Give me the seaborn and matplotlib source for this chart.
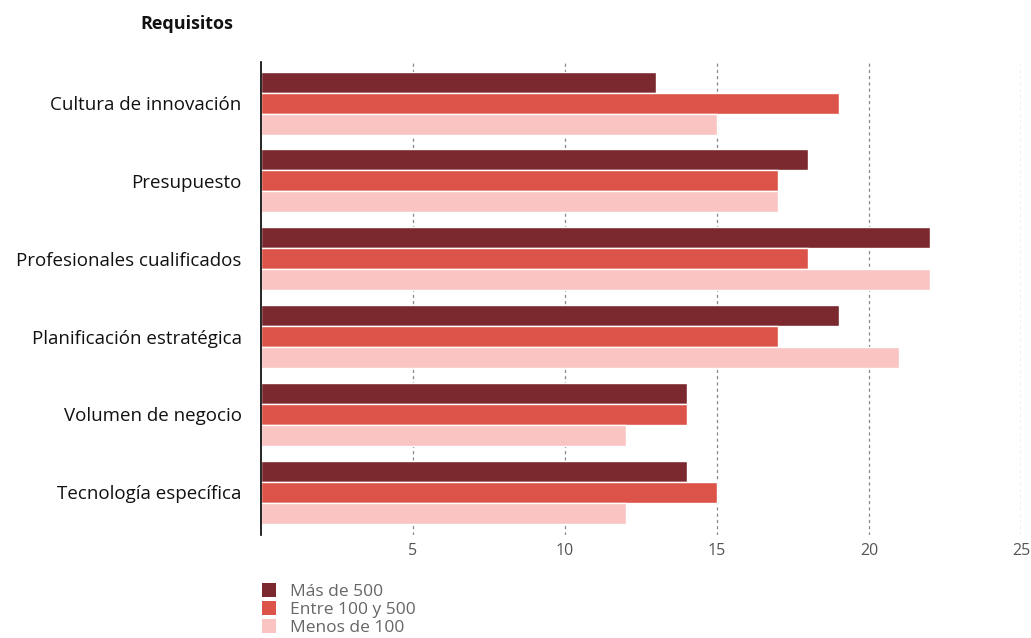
import pandas as pd
import seaborn as sns
import matplotlib.pyplot as plt
from matplotlib.patches import Patch

# Data
categories = ['Cultura de innovación', 'Presupuesto', 'Profesionales cualificados',
              'Planificación estratégica', 'Volumen de negocio', 'Tecnología específica']
series_names = ['Más de 500', 'Entre 100 y 500', 'Menos de 100']
mas_500 = [13, 18, 22, 19, 14, 14]
entre_100_500 = [19, 17, 18, 17, 14, 15]
menos_100 = [15, 17, 22, 21, 12, 12]
x_ticks = [5, 10, 15, 20, 25]

colors = ['#7B292E', '#DC5449', '#F9C4C1']

df = pd.DataFrame({
    'categoria': categories * 3,
    'serie': [s for s in series_names for _ in categories],
    'valor': mas_500 + entre_100_500 + menos_100,
})

sns.set_style('white')
plt.rcParams['font.family'] = ['Open Sans', 'DejaVu Sans']

fig = plt.figure(figsize=(10.31, 6.38), dpi=100)
ax = fig.add_axes([0.2532, 0.1614, 0.737, 0.7416])

sns.barplot(data=df, y='categoria', x='valor', hue='serie', order=categories,
            hue_order=series_names, palette=colors, orient='h', width=0.81,
            edgecolor='white', linewidth=1, saturation=1, legend=False, ax=ax, zorder=3)

ax.set_xlim(0, 25)
ax.set_ylim(5.55, -0.53)
ax.set_xticks(x_ticks)
ax.set_xticklabels([str(t) for t in x_ticks], color='#555555', fontsize=11.5)
ax.tick_params(axis='x', length=0, pad=6)
ax.tick_params(axis='y', length=0, pad=14, labelsize=13.5, labelcolor='#111111')
ax.set_xlabel('')
ax.set_ylabel('')
ax.grid(axis='x', color='#888888', linestyle=(0, (2.5, 2.5)), linewidth=0.9, zorder=0)
ax.set_axisbelow(True)
for side in ['top', 'right', 'bottom']:
    ax.spines[side].set_visible(False)
ax.spines['left'].set_color('black')
ax.spines['left'].set_linewidth(1.2)
ax.spines['left'].set_zorder(6)

fig.text(187 / 1031, 1 - 24 / 638, 'Requisitos', ha='center', va='center',
         fontsize=13, fontweight='bold', color='#111111')

handles = [Patch(facecolor=c, edgecolor='none') for c in colors]
fig.legend(handles, series_names, loc='upper left', bbox_to_anchor=(253 / 1031, 1 - 574 / 638),
           frameon=False, fontsize=12.5, labelcolor='#666666', handlelength=0.85,
           handleheight=0.85, handletextpad=0.8, labelspacing=0.08, borderpad=0)

fig.savefig('out.png', dpi=100)
